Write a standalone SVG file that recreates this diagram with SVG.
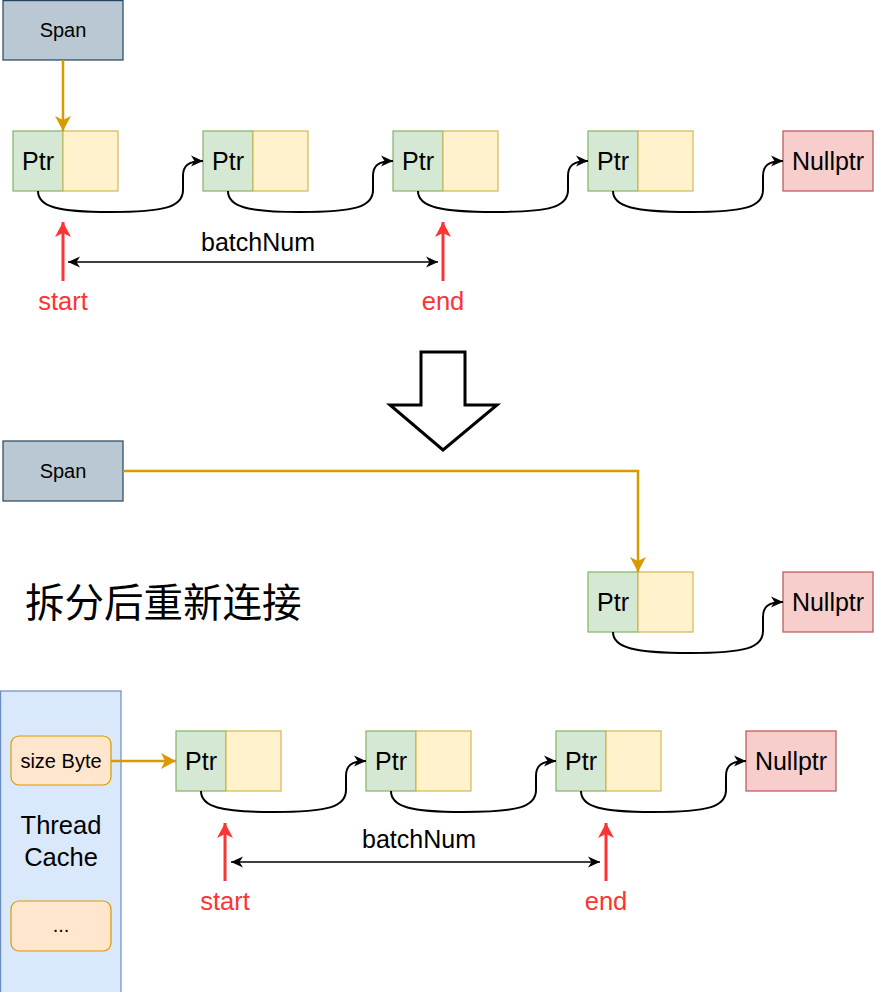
<svg xmlns="http://www.w3.org/2000/svg" width="874" height="992" viewBox="0 0 874 992">
<style>
text{font-family:"Liberation Sans",Arial,Helvetica,sans-serif;fill:#000;}
.c{text-anchor:middle;}
.span{fill:#bac8d3;stroke:#23445d;stroke-width:1.2;}
.g{fill:#d5e8d4;stroke:#82b366;stroke-width:1.2;}
.y{fill:#fff2cc;stroke:#d6b656;stroke-width:1.2;}
.n{fill:#f8cecc;stroke:#b85450;stroke-width:1.2;}
.o{fill:#ffe6cc;stroke:#d79b00;stroke-width:1.2;}
.tc{fill:#dae8fc;stroke:#6c8ebf;stroke-width:1.2;}
.curve{fill:none;stroke:#000;stroke-width:2;marker-end:url(#ab);}
.bn{fill:none;stroke:#000;stroke-width:1.6;marker-start:url(#abs);marker-end:url(#ab);}
.or{fill:none;stroke:#d79b00;stroke-width:2.5;marker-end:url(#ao);}
.red{fill:none;stroke:#ff3333;stroke-width:3;marker-end:url(#ar);}
.rt{fill:#ff3333;font-size:25.5px;}
.big{font-size:25px;}
.sm{font-size:20px;}
</style>
<defs>
<marker id="ab" markerUnits="userSpaceOnUse" markerWidth="12" markerHeight="11" refX="12" refY="5.5" orient="auto" overflow="visible">
<path d="M0,0 L12,5.5 L0,11 L3.5,5.5 Z" fill="#000"/>
</marker>
<marker id="abs" markerUnits="userSpaceOnUse" markerWidth="12" markerHeight="11" refX="12" refY="5.5" orient="auto-start-reverse" overflow="visible">
<path d="M0,0 L12,5.5 L0,11 L3.5,5.5 Z" fill="#000"/>
</marker>
<marker id="ao" markerUnits="userSpaceOnUse" markerWidth="16" markerHeight="16" refX="15" refY="8" orient="auto" overflow="visible">
<path d="M0,0 L15,8 L0,16 L4,8 Z" fill="#d79b00"/>
</marker>
<marker id="ar" markerUnits="userSpaceOnUse" markerWidth="16" markerHeight="16" refX="15" refY="8" orient="auto" overflow="visible">
<path d="M0,0 L15,8 L0,16 L4,8 Z" fill="#ff3333"/>
</marker>
</defs>

<g id="span1"><rect class="span" x="3" y="0.6" width="120" height="59.4"/><text class="c sm" x="63" y="37">Span</text></g>
<g id="n1"><rect class="g" x="13" y="131" width="50" height="60"/><rect class="y" x="63" y="131" width="55" height="60"/><text class="c big" x="38" y="170">Ptr</text></g>
<g id="n2"><rect class="g" x="203" y="131" width="50" height="60"/><rect class="y" x="253" y="131" width="55" height="60"/><text class="c big" x="228" y="170">Ptr</text></g>
<g id="n3"><rect class="g" x="393" y="131" width="50" height="60"/><rect class="y" x="443" y="131" width="55" height="60"/><text class="c big" x="418" y="170">Ptr</text></g>
<g id="n4"><rect class="g" x="588" y="131" width="50" height="60"/><rect class="y" x="638" y="131" width="55" height="60"/><text class="c big" x="613" y="170">Ptr</text></g>
<g id="null1"><rect class="n" x="783" y="131" width="90" height="60"/><text class="c big" x="828" y="170">Nullptr</text></g>

<g id="bigArrow"><polygon points="421,352 465,352 465,405 497,405 443,450 390,405 421,405" fill="#fff" stroke="#000" stroke-width="3"/></g>

<g id="span2"><rect class="span" x="3" y="441" width="120" height="60"/><text class="c sm" x="63" y="478">Span</text></g>
<g id="n5"><rect class="g" x="588" y="572" width="50" height="60"/><rect class="y" x="638" y="572" width="55" height="60"/><text class="c big" x="613" y="611">Ptr</text></g>
<g id="null2"><rect class="n" x="783" y="572" width="90" height="60"/><text class="c big" x="828" y="611">Nullptr</text></g>

<g id="title"><text x="25" y="617" style="font-family:'Noto Sans CJK SC','Noto Sans CJK JP',sans-serif;font-size:39.5px;">拆分后重新连接</text></g>

<g id="threadCache"><rect class="tc" x="0.6" y="691" width="120.4" height="302"/><text class="c" x="61" y="834" style="font-size:25.5px">Thread</text><text class="c" x="61" y="866" style="font-size:25.5px">Cache</text></g>
<g id="sizeByte"><rect class="o" x="11" y="736" width="100" height="49" rx="8"/><text class="c sm" x="61" y="768">size Byte</text></g>
<g id="dots"><rect class="o" x="11" y="901" width="100" height="50" rx="8"/><text class="c sm" x="61" y="932">...</text></g>
<g id="n6"><rect class="g" x="176" y="731" width="50" height="60"/><rect class="y" x="226" y="731" width="55" height="60"/><text class="c big" x="201" y="770">Ptr</text></g>
<g id="n7"><rect class="g" x="366" y="731" width="50" height="60"/><rect class="y" x="416" y="731" width="55" height="60"/><text class="c big" x="391" y="770">Ptr</text></g>
<g id="n8"><rect class="g" x="556" y="731" width="50" height="60"/><rect class="y" x="606" y="731" width="55" height="60"/><text class="c big" x="581" y="770">Ptr</text></g>
<g id="null3"><rect class="n" x="746" y="731" width="90" height="60"/><text class="c big" x="791" y="770">Nullptr</text></g>

<g id="labels">
<text class="c big" x="258" y="251">batchNum</text>
<text class="c rt" x="63" y="310">start</text>
<text class="c rt" x="443" y="310">end</text>
<text class="c big" x="419" y="848">batchNum</text>
<text class="c rt" x="225" y="910">start</text>
<text class="c rt" x="606" y="910">end</text>
</g>

<g id="connectors">
<path class="or" d="M63,60 L63,131"/>
<path class="curve" d="M38,191 C38,207 58,212 110,212 C165,212 183,207 183,190 L183,176 C183,166 188,161 203,161"/>
<path class="curve" d="M228,191 C228,207 248,212 300,212 C355,212 373,207 373,190 L373,176 C373,166 378,161 393,161"/>
<path class="curve" d="M418,191 C418,207 440,212 495,212 C550,212 568,207 568,190 L568,176 C568,166 573,161 588,161"/>
<path class="curve" d="M613,191 C613,207 635,212 690,212 C745,212 763,207 763,190 L763,176 C763,166 768,161 783,161"/>
<path class="bn" d="M68,262 L438,262"/>
<path class="red" d="M63,281 L63,222"/>
<path class="red" d="M443,281 L443,222"/>
<path class="or" d="M123,471 L638,471 L638,572"/>
<path class="curve" d="M613,632 C613,648 635,653 690,653 C745,653 763,648 763,631 L763,617 C763,607 768,602 783,602"/>
<path class="or" d="M111,761 L176,761"/>
<path class="curve" d="M201,791 C201,807 221,812 273,812 C328,812 346,807 346,790 L346,776 C346,766 351,761 366,761"/>
<path class="curve" d="M391,791 C391,807 411,812 463,812 C518,812 536,807 536,790 L536,776 C536,766 541,761 556,761"/>
<path class="curve" d="M581,791 C581,807 601,812 653,812 C708,812 726,807 726,790 L726,776 C726,766 731,761 746,761"/>
<path class="bn" d="M231,862 L600,862"/>
<path class="red" d="M225,881 L225,823"/>
<path class="red" d="M606,881 L606,823"/>
</g>
</svg>
